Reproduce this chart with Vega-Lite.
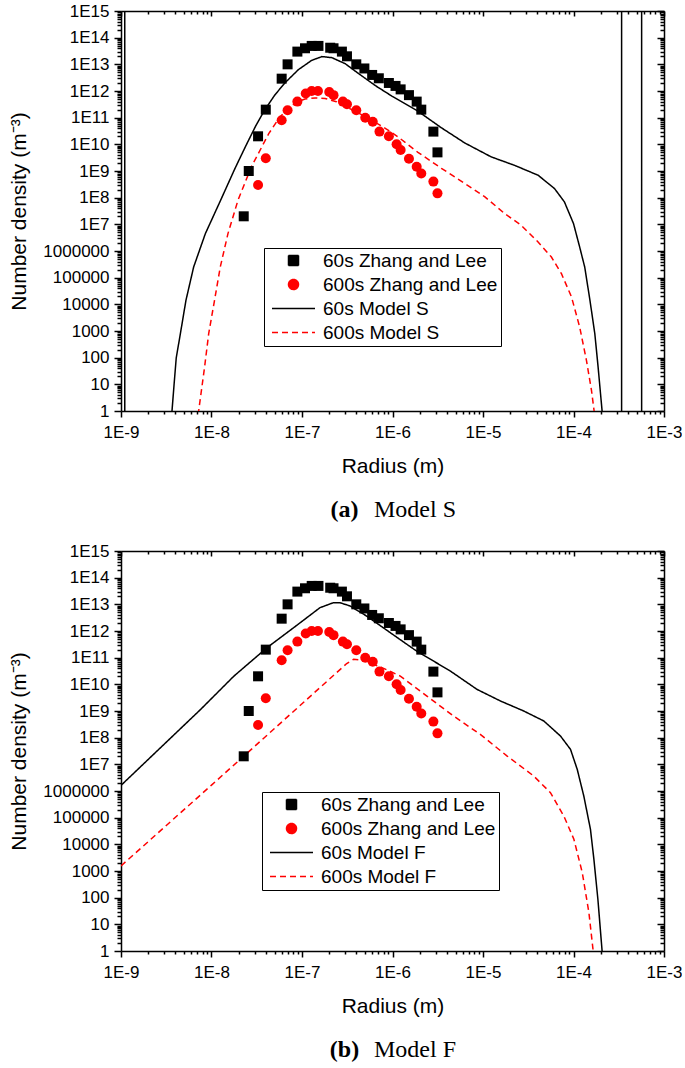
{
  "$schema": "https://vega.github.io/schema/vega-lite/v6.json",
  "background": "white",
  "padding": {"left": 8, "top": 2, "right": 0, "bottom": 0},
  "config": {
    "view": {"stroke": null},
    "axis": {"grid": false, "labelFont": "Liberation Sans", "labelFontSize": 17, "labelColor": "black", "tickColor": "black", "tickWidth": 1.5, "domainColor": "black", "domainWidth": 1.5, "titleFont": "Liberation Sans", "titleFontSize": 21, "titleFontWeight": "normal", "titleColor": "black", "labelFlush": false, "labelOverlap": false, "labelBound": false, "labelPadding": 5},
    "legend": {"labelFont": "Liberation Sans", "labelFontSize": 19, "labelColor": "black", "labelLimit": 0, "strokeColor": "black", "fillColor": "white", "padding": 3, "cornerRadius": 0, "symbolSize": 100, "symbolStrokeWidth": 1.5, "symbolOpacity": 1, "rowPadding": 4, "symbolOffset": 17, "labelOffset": 20},
    "title": {"font": "Liberation Serif", "fontSize": 24, "color": "black"}
  },
  "datasets": {
    "pts": [
      {"r": 2.27e-8, "n": 2e7, "series": "60s Zhang and Lee"},
      {"r": 2.58e-8, "n": 1e9, "series": "60s Zhang and Lee"},
      {"r": 3.27e-8, "n": 2e10, "series": "60s Zhang and Lee"},
      {"r": 3.98e-8, "n": 2e11, "series": "60s Zhang and Lee"},
      {"r": 5.96e-8, "n": 2.9e12, "series": "60s Zhang and Lee"},
      {"r": 6.93e-8, "n": 1e13, "series": "60s Zhang and Lee"},
      {"r": 8.89e-8, "n": 3e13, "series": "60s Zhang and Lee"},
      {"r": 1.08e-7, "n": 4e13, "series": "60s Zhang and Lee"},
      {"r": 1.28e-7, "n": 4.9e13, "series": "60s Zhang and Lee"},
      {"r": 1.52e-7, "n": 4.9e13, "series": "60s Zhang and Lee"},
      {"r": 2.05e-7, "n": 4.2e13, "series": "60s Zhang and Lee"},
      {"r": 2.23e-7, "n": 4e13, "series": "60s Zhang and Lee"},
      {"r": 2.76e-7, "n": 3e13, "series": "60s Zhang and Lee"},
      {"r": 3.14e-7, "n": 2e13, "series": "60s Zhang and Lee"},
      {"r": 3.98e-7, "n": 1e13, "series": "60s Zhang and Lee"},
      {"r": 4.89e-7, "n": 7e12, "series": "60s Zhang and Lee"},
      {"r": 5.96e-7, "n": 4e12, "series": "60s Zhang and Lee"},
      {"r": 7.06e-7, "n": 3e12, "series": "60s Zhang and Lee"},
      {"r": 9.12e-7, "n": 2e12, "series": "60s Zhang and Lee"},
      {"r": 1.08e-6, "n": 1.55e12, "series": "60s Zhang and Lee"},
      {"r": 1.23e-6, "n": 1.15e12, "series": "60s Zhang and Lee"},
      {"r": 1.52e-6, "n": 7e11, "series": "60s Zhang and Lee"},
      {"r": 1.85e-6, "n": 4e11, "series": "60s Zhang and Lee"},
      {"r": 2.08e-6, "n": 2e11, "series": "60s Zhang and Lee"},
      {"r": 2.83e-6, "n": 3e10, "series": "60s Zhang and Lee"},
      {"r": 3.14e-6, "n": 5e9, "series": "60s Zhang and Lee"},
      {"r": 3.27e-8, "n": 3e8, "series": "600s Zhang and Lee"},
      {"r": 3.98e-8, "n": 3e9, "series": "600s Zhang and Lee"},
      {"r": 5.96e-8, "n": 8e10, "series": "600s Zhang and Lee"},
      {"r": 6.93e-8, "n": 1.9e11, "series": "600s Zhang and Lee"},
      {"r": 8.89e-8, "n": 4e11, "series": "600s Zhang and Lee"},
      {"r": 1.1e-7, "n": 8e11, "series": "600s Zhang and Lee"},
      {"r": 1.28e-7, "n": 1e12, "series": "600s Zhang and Lee"},
      {"r": 1.5e-7, "n": 1e12, "series": "600s Zhang and Lee"},
      {"r": 2e-7, "n": 9.2e11, "series": "600s Zhang and Lee"},
      {"r": 2.23e-7, "n": 7e11, "series": "600s Zhang and Lee"},
      {"r": 2.83e-7, "n": 4e11, "series": "600s Zhang and Lee"},
      {"r": 3.14e-7, "n": 3.2e11, "series": "600s Zhang and Lee"},
      {"r": 3.98e-7, "n": 1.9e11, "series": "600s Zhang and Lee"},
      {"r": 5e-7, "n": 1e11, "series": "600s Zhang and Lee"},
      {"r": 6.05e-7, "n": 7e10, "series": "600s Zhang and Lee"},
      {"r": 7.18e-7, "n": 3e10, "series": "600s Zhang and Lee"},
      {"r": 9.12e-7, "n": 2e10, "series": "600s Zhang and Lee"},
      {"r": 1.11e-6, "n": 1e10, "series": "600s Zhang and Lee"},
      {"r": 1.23e-6, "n": 6.1e9, "series": "600s Zhang and Lee"},
      {"r": 1.52e-6, "n": 2.9e9, "series": "600s Zhang and Lee"},
      {"r": 1.85e-6, "n": 1.45e9, "series": "600s Zhang and Lee"},
      {"r": 2.08e-6, "n": 8e8, "series": "600s Zhang and Lee"},
      {"r": 2.83e-6, "n": 4e8, "series": "600s Zhang and Lee"},
      {"r": 3.14e-6, "n": 1.45e8, "series": "600s Zhang and Lee"}
    ],
    "lineS": [
      {"r": 1.1e-9, "n": 1e20, "series": "60s Model S"},
      {"r": 1.101e-9, "n": 1e-3, "series": "60s Model S"},
      {"r": 3.5e-9, "n": 0.1, "series": "60s Model S"},
      {"r": 3.66e-9, "n": 1, "series": "60s Model S"},
      {"r": 3.86e-9, "n": 10, "series": "60s Model S"},
      {"r": 4.08e-9, "n": 100, "series": "60s Model S"},
      {"r": 4.53e-9, "n": 794, "series": "60s Model S"},
      {"r": 5.22e-9, "n": 1.41e4, "series": "60s Model S"},
      {"r": 6.35e-9, "n": 2.51e5, "series": "60s Model S"},
      {"r": 8.55e-9, "n": 4.47e6, "series": "60s Model S"},
      {"r": 1.26e-8, "n": 7.94e7, "series": "60s Model S"},
      {"r": 1.82e-8, "n": 1.26e9, "series": "60s Model S"},
      {"r": 2.4e-8, "n": 8.91e9, "series": "60s Model S"},
      {"r": 3.09e-8, "n": 5.01e10, "series": "60s Model S"},
      {"r": 3.89e-8, "n": 2.0e11, "series": "60s Model S"},
      {"r": 5.01e-8, "n": 7.08e11, "series": "60s Model S"},
      {"r": 6.46e-8, "n": 2.0e12, "series": "60s Model S"},
      {"r": 9.12e-8, "n": 6.31e12, "series": "60s Model S"},
      {"r": 1.28e-7, "n": 1.41e13, "series": "60s Model S"},
      {"r": 1.66e-7, "n": 1.95e13, "series": "60s Model S"},
      {"r": 2.14e-7, "n": 1.78e13, "series": "60s Model S"},
      {"r": 3.01e-7, "n": 1.05e13, "series": "60s Model S"},
      {"r": 4.23e-7, "n": 4.47e12, "series": "60s Model S"},
      {"r": 6.49e-7, "n": 1.58e12, "series": "60s Model S"},
      {"r": 9.93e-7, "n": 6.31e11, "series": "60s Model S"},
      {"r": 1.86e-6, "n": 1.86e11, "series": "60s Model S"},
      {"r": 3.47e-6, "n": 4.17e10, "series": "60s Model S"},
      {"r": 6.31e-6, "n": 1.12e10, "series": "60s Model S"},
      {"r": 1.23e-5, "n": 3.39e9, "series": "60s Model S"},
      {"r": 2.24e-5, "n": 1.62e9, "series": "60s Model S"},
      {"r": 4.07e-5, "n": 6.92e8, "series": "60s Model S"},
      {"r": 6.17e-5, "n": 2.19e8, "series": "60s Model S"},
      {"r": 7.94e-5, "n": 6.92e7, "series": "60s Model S"},
      {"r": 1.0e-4, "n": 1.07e7, "series": "60s Model S"},
      {"r": 1.17e-4, "n": 1.41e6, "series": "60s Model S"},
      {"r": 1.33e-4, "n": 2.51e5, "series": "60s Model S"},
      {"r": 1.52e-4, "n": 1.41e4, "series": "60s Model S"},
      {"r": 1.72e-4, "n": 794, "series": "60s Model S"},
      {"r": 1.87e-4, "n": 44.7, "series": "60s Model S"},
      {"r": 2.07e-4, "n": 1, "series": "60s Model S"},
      {"r": 2.3e-4, "n": 0.01, "series": "60s Model S"},
      {"r": 3.4e-4, "n": 1e-3, "series": "60s Model S"},
      {"r": 3.401e-4, "n": 1e20, "series": "60s Model S"},
      {"r": 5.66e-4, "n": 1e20, "series": "60s Model S"},
      {"r": 5.661e-4, "n": 1e-3, "series": "60s Model S"},
      {"r": 1e-3, "n": 1e-3, "series": "60s Model S"},
      {"r": 7.0e-9, "n": 0.3, "series": "600s Model S"},
      {"r": 7.21e-9, "n": 1, "series": "600s Model S"},
      {"r": 8.39e-9, "n": 44.7, "series": "600s Model S"},
      {"r": 9.31e-9, "n": 794, "series": "600s Model S"},
      {"r": 1.08e-8, "n": 1.41e4, "series": "600s Model S"},
      {"r": 1.25e-8, "n": 2.51e5, "series": "600s Model S"},
      {"r": 1.52e-8, "n": 4.47e6, "series": "600s Model S"},
      {"r": 1.96e-8, "n": 7.94e7, "series": "600s Model S"},
      {"r": 2.75e-8, "n": 1.41e9, "series": "600s Model S"},
      {"r": 4.29e-8, "n": 2.51e10, "series": "600s Model S"},
      {"r": 5.62e-8, "n": 1e11, "series": "600s Model S"},
      {"r": 7.08e-8, "n": 2.24e11, "series": "600s Model S"},
      {"r": 8.71e-8, "n": 3.8e11, "series": "600s Model S"},
      {"r": 1.08e-7, "n": 5.01e11, "series": "600s Model S"},
      {"r": 1.4e-7, "n": 5.5e11, "series": "600s Model S"},
      {"r": 1.8e-7, "n": 5.25e11, "series": "600s Model S"},
      {"r": 2.4e-7, "n": 3.98e11, "series": "600s Model S"},
      {"r": 3.55e-7, "n": 2.0e11, "series": "600s Model S"},
      {"r": 5.62e-7, "n": 8.91e10, "series": "600s Model S"},
      {"r": 8.32e-7, "n": 3.98e10, "series": "600s Model S"},
      {"r": 1.15e-6, "n": 1.91e10, "series": "600s Model S"},
      {"r": 1.91e-6, "n": 5.01e9, "series": "600s Model S"},
      {"r": 3.47e-6, "n": 1.26e9, "series": "600s Model S"},
      {"r": 6.31e-6, "n": 3.39e8, "series": "600s Model S"},
      {"r": 1.05e-5, "n": 1.07e8, "series": "600s Model S"},
      {"r": 1.74e-5, "n": 2.51e7, "series": "600s Model S"},
      {"r": 2.65e-5, "n": 9.12e6, "series": "600s Model S"},
      {"r": 4.06e-5, "n": 2.19e6, "series": "600s Model S"},
      {"r": 5.7e-5, "n": 5.96e5, "series": "600s Model S"},
      {"r": 7.36e-5, "n": 1.41e5, "series": "600s Model S"},
      {"r": 9.51e-5, "n": 1.88e4, "series": "600s Model S"},
      {"r": 1.17e-4, "n": 1410, "series": "600s Model S"},
      {"r": 1.39e-4, "n": 79.4, "series": "600s Model S"},
      {"r": 1.58e-4, "n": 5.96, "series": "600s Model S"},
      {"r": 1.69e-4, "n": 1, "series": "600s Model S"},
      {"r": 1.78e-4, "n": 0.316, "series": "600s Model S"}
    ],
    "lineF": [
      {"r": 1e-9, "n": 1.62e6, "series": "60s Model F"},
      {"r": 7.59e-9, "n": 1.15e9, "series": "60s Model F"},
      {"r": 1.77e-8, "n": 2.04e10, "series": "60s Model F"},
      {"r": 4.11e-8, "n": 2.37e11, "series": "60s Model F"},
      {"r": 9.55e-8, "n": 2.04e12, "series": "60s Model F"},
      {"r": 1.58e-7, "n": 7.5e12, "series": "60s Model F"},
      {"r": 2.22e-7, "n": 1.15e13, "series": "60s Model F"},
      {"r": 2.63e-7, "n": 1.15e13, "series": "60s Model F"},
      {"r": 3.39e-7, "n": 8.71e12, "series": "60s Model F"},
      {"r": 5.18e-7, "n": 3.63e12, "series": "60s Model F"},
      {"r": 7.89e-7, "n": 1.33e12, "series": "60s Model F"},
      {"r": 1.2e-6, "n": 4.9e11, "series": "60s Model F"},
      {"r": 1.84e-6, "n": 1.78e11, "series": "60s Model F"},
      {"r": 4.35e-6, "n": 3.16e10, "series": "60s Model F"},
      {"r": 8.59e-6, "n": 6.46e9, "series": "60s Model F"},
      {"r": 1.56e-5, "n": 2.37e9, "series": "60s Model F"},
      {"r": 2.82e-5, "n": 1e9, "series": "60s Model F"},
      {"r": 4.7e-5, "n": 4.22e8, "series": "60s Model F"},
      {"r": 7.18e-5, "n": 1.15e8, "series": "60s Model F"},
      {"r": 9.27e-5, "n": 3.63e7, "series": "60s Model F"},
      {"r": 1.1e-4, "n": 6.46e6, "series": "60s Model F"},
      {"r": 1.3e-4, "n": 6.46e5, "series": "60s Model F"},
      {"r": 1.54e-4, "n": 3.63e4, "series": "60s Model F"},
      {"r": 1.68e-4, "n": 2750, "series": "60s Model F"},
      {"r": 1.86e-4, "n": 87.1, "series": "60s Model F"},
      {"r": 2.07e-4, "n": 1, "series": "60s Model F"},
      {"r": 2.14e-4, "n": 0.1, "series": "60s Model F"},
      {"r": 1e-9, "n": 1550, "series": "600s Model F"},
      {"r": 1e-8, "n": 1.66e6, "series": "600s Model F"},
      {"r": 1e-7, "n": 1.86e9, "series": "600s Model F"},
      {"r": 3.12e-7, "n": 6.03e10, "series": "600s Model F"},
      {"r": 3.72e-7, "n": 8.71e10, "series": "600s Model F"},
      {"r": 4.9e-7, "n": 7.94e10, "series": "600s Model F"},
      {"r": 8.59e-7, "n": 3.55e10, "series": "600s Model F"},
      {"r": 1.22e-6, "n": 2.04e10, "series": "600s Model F"},
      {"r": 2.4e-6, "n": 3.63e9, "series": "600s Model F"},
      {"r": 4.73e-6, "n": 6.46e8, "series": "600s Model F"},
      {"r": 9.33e-6, "n": 1.33e8, "series": "600s Model F"},
      {"r": 1.85e-5, "n": 2.04e7, "series": "600s Model F"},
      {"r": 3.64e-5, "n": 3.63e6, "series": "600s Model F"},
      {"r": 5.56e-5, "n": 8.71e5, "series": "600s Model F"},
      {"r": 7.82e-5, "n": 1.15e5, "series": "600s Model F"},
      {"r": 1.01e-4, "n": 1.55e4, "series": "600s Model F"},
      {"r": 1.25e-4, "n": 871, "series": "600s Model F"},
      {"r": 1.48e-4, "n": 27.5, "series": "600s Model F"},
      {"r": 1.65e-4, "n": 1, "series": "600s Model F"},
      {"r": 1.7e-4, "n": 0.316, "series": "600s Model F"}
    ]
  },
  "spacing": 20,
  "resolve": {"scale": {"color": "independent", "shape": "independent", "strokeDash": "independent"}, "legend": {"color": "independent", "shape": "independent", "strokeDash": "independent"}},
  "vconcat": [
    {
      "title": {"text": "Model S", "orient": "bottom", "anchor": "middle", "frame": "group", "font": "Liberation Serif", "fontSize": 24, "fontWeight": "normal", "offset": 0, "dx": 294, "dy": -24},
      "vconcat": [
        {
          "width": 543, "height": 400,
          "title": {"text": "(a)", "orient": "bottom", "font": "Liberation Serif", "fontSize": 24, "fontWeight": "bold", "offset": 22, "dx": -48, "frame": "group"},
          "resolve": {"axis": {"x": "independent", "y": "independent"}},
          "layer": [
            {
              "data": {"name": "lineS"},
              "mark": {"type": "line", "clip": true, "strokeWidth": 1.5},
              "encoding": {
                "x": {"field": "r", "type": "quantitative", "scale": {"type": "log", "domain": [1e-9, 1e-3], "nice": false},
                  "axis": {"orient": "bottom", "title": "Radius (m)", "titlePadding": 15, "labelPadding": 7,
                    "values": [1e-9,2e-9,3e-9,4e-9,5e-9,6e-9,7e-9,8e-9,9e-9,1e-8,2e-8,3e-8,4e-8,5e-8,6e-8,7e-8,8e-8,9e-8,1e-7,2e-7,3e-7,4e-7,5e-7,6e-7,7e-7,8e-7,9e-7,1e-6,2e-6,3e-6,4e-6,5e-6,6e-6,7e-6,8e-6,9e-6,1e-5,2e-5,3e-5,4e-5,5e-5,6e-5,7e-5,8e-5,9e-5,1e-4,2e-4,3e-4,4e-4,5e-4,6e-4,7e-4,8e-4,9e-4,1e-3],
                    "labelExpr": "abs(log(datum.value)/LN10 - round(log(datum.value)/LN10)) < 0.01 ? '1E' + round(log(datum.value)/LN10) : ''",
                    "tickSize": {"condition": {"test": "abs(log(datum.value)/LN10 - round(log(datum.value)/LN10)) < 0.01", "value": 6}, "value": 3}}},
                "y": {"field": "n", "type": "quantitative", "scale": {"type": "log", "domain": [1, 1e15], "nice": false},
                  "axis": {"orient": "left", "title": "Number density (m⁻³)", "titlePadding": 13,
                    "values": [1,2,3,4,5,6,7,8,9,1e1,2e1,3e1,4e1,5e1,6e1,7e1,8e1,9e1,1e2,2e2,3e2,4e2,5e2,6e2,7e2,8e2,9e2,1e3,2e3,3e3,4e3,5e3,6e3,7e3,8e3,9e3,1e4,2e4,3e4,4e4,5e4,6e4,7e4,8e4,9e4,1e5,2e5,3e5,4e5,5e5,6e5,7e5,8e5,9e5,1e6,2e6,3e6,4e6,5e6,6e6,7e6,8e6,9e6,1e7,2e7,3e7,4e7,5e7,6e7,7e7,8e7,9e7,1e8,2e8,3e8,4e8,5e8,6e8,7e8,8e8,9e8,1e9,2e9,3e9,4e9,5e9,6e9,7e9,8e9,9e9,1e10,2e10,3e10,4e10,5e10,6e10,7e10,8e10,9e10,1e11,2e11,3e11,4e11,5e11,6e11,7e11,8e11,9e11,1e12,2e12,3e12,4e12,5e12,6e12,7e12,8e12,9e12,1e13,2e13,3e13,4e13,5e13,6e13,7e13,8e13,9e13,1e14,2e14,3e14,4e14,5e14,6e14,7e14,8e14,9e14,1e15],
                    "labelExpr": "abs(log(datum.value)/LN10 - round(log(datum.value)/LN10)) < 0.01 ? (datum.value >= 1e7 ? '1E' + round(log(datum.value)/LN10) : format(datum.value, 'd')) : ''",
                    "tickSize": {"condition": {"test": "abs(log(datum.value)/LN10 - round(log(datum.value)/LN10)) < 0.01", "value": 7}, "value": 4}}},
                "color": {"field": "series", "type": "nominal", "scale": {"domain": ["60s Zhang and Lee", "600s Zhang and Lee", "60s Model S", "600s Model S"], "range": ["#000000", "#ff0000", "#000000", "#ff0000"]}, "legend": {"title": null, "orient": "none", "legendX": 143, "legendY": 237}},
                "strokeDash": {"field": "series", "type": "nominal", "scale": {"domain": ["60s Zhang and Lee", "600s Zhang and Lee", "60s Model S", "600s Model S"], "range": [[1,0],[1,0],[1,0],[6,4]]}, "legend": {"title": null, "orient": "none", "legendX": 143, "legendY": 237}}
              }
            },
            {
              "data": {"name": "pts"},
              "mark": {"type": "point", "filled": true, "size": 100, "opacity": 1, "strokeWidth": 0},
              "encoding": {
                "x": {"field": "r", "type": "quantitative", "scale": {"type": "log", "domain": [1e-9, 1e-3], "nice": false}, "axis": null},
                "y": {"field": "n", "type": "quantitative", "scale": {"type": "log", "domain": [1, 1e15], "nice": false}, "axis": null},
                "color": {"field": "series", "type": "nominal", "scale": {"domain": ["60s Zhang and Lee", "600s Zhang and Lee", "60s Model S", "600s Model S"], "range": ["#000000", "#ff0000", "#000000", "#ff0000"]}, "legend": {"title": null, "orient": "none", "legendX": 143, "legendY": 237}},
                "shape": {"field": "series", "type": "nominal", "scale": {"domain": ["60s Zhang and Lee", "600s Zhang and Lee", "60s Model S", "600s Model S"], "range": ["square", "circle", "M-4.3,0H4.3", "M-4.3,0H4.3"]}, "legend": {"title": null, "orient": "none", "legendX": 143, "legendY": 237}}
              }
            },
            {
              "data": {"name": "pts"},
              "mark": {"type": "point", "opacity": 0},
              "encoding": {
                "x": {"field": "r", "type": "quantitative", "scale": {"type": "log", "domain": [1e-9, 1e-3], "nice": false},
                  "axis": {"orient": "top", "title": null, "labels": false,
                    "values": [1e-9,2e-9,3e-9,4e-9,5e-9,6e-9,7e-9,8e-9,9e-9,1e-8,2e-8,3e-8,4e-8,5e-8,6e-8,7e-8,8e-8,9e-8,1e-7,2e-7,3e-7,4e-7,5e-7,6e-7,7e-7,8e-7,9e-7,1e-6,2e-6,3e-6,4e-6,5e-6,6e-6,7e-6,8e-6,9e-6,1e-5,2e-5,3e-5,4e-5,5e-5,6e-5,7e-5,8e-5,9e-5,1e-4,2e-4,3e-4,4e-4,5e-4,6e-4,7e-4,8e-4,9e-4,1e-3],
                    "tickSize": {"condition": {"test": "abs(log(datum.value)/LN10 - round(log(datum.value)/LN10)) < 0.01", "value": -5}, "value": -3}}},
                "y": {"field": "n", "type": "quantitative", "scale": {"type": "log", "domain": [1, 1e15], "nice": false},
                  "axis": {"orient": "right", "title": null, "labels": false,
                    "values": [1,2,3,4,5,6,7,8,9,1e1,2e1,3e1,4e1,5e1,6e1,7e1,8e1,9e1,1e2,2e2,3e2,4e2,5e2,6e2,7e2,8e2,9e2,1e3,2e3,3e3,4e3,5e3,6e3,7e3,8e3,9e3,1e4,2e4,3e4,4e4,5e4,6e4,7e4,8e4,9e4,1e5,2e5,3e5,4e5,5e5,6e5,7e5,8e5,9e5,1e6,2e6,3e6,4e6,5e6,6e6,7e6,8e6,9e6,1e7,2e7,3e7,4e7,5e7,6e7,7e7,8e7,9e7,1e8,2e8,3e8,4e8,5e8,6e8,7e8,8e8,9e8,1e9,2e9,3e9,4e9,5e9,6e9,7e9,8e9,9e9,1e10,2e10,3e10,4e10,5e10,6e10,7e10,8e10,9e10,1e11,2e11,3e11,4e11,5e11,6e11,7e11,8e11,9e11,1e12,2e12,3e12,4e12,5e12,6e12,7e12,8e12,9e12,1e13,2e13,3e13,4e13,5e13,6e13,7e13,8e13,9e13,1e14,2e14,3e14,4e14,5e14,6e14,7e14,8e14,9e14,1e15],
                    "tickSize": {"condition": {"test": "abs(log(datum.value)/LN10 - round(log(datum.value)/LN10)) < 0.01", "value": -7}, "value": -4}}}
              }
            }
          ]
        }
      ]
    },
    {
      "title": {"text": "Model F", "orient": "bottom", "anchor": "middle", "frame": "group", "font": "Liberation Serif", "fontSize": 24, "fontWeight": "normal", "offset": 0, "dx": 294, "dy": -24},
      "vconcat": [
        {
          "width": 543, "height": 400,
          "title": {"text": "(b)", "orient": "bottom", "font": "Liberation Serif", "fontSize": 24, "fontWeight": "bold", "offset": 22, "dx": -48, "frame": "group"},
          "resolve": {"axis": {"x": "independent", "y": "independent"}},
          "layer": [
            {
              "data": {"name": "lineF"},
              "mark": {"type": "line", "clip": true, "strokeWidth": 1.5},
              "encoding": {
                "x": {"field": "r", "type": "quantitative", "scale": {"type": "log", "domain": [1e-9, 1e-3], "nice": false},
                  "axis": {"orient": "bottom", "title": "Radius (m)", "titlePadding": 15, "labelPadding": 7,
                    "values": [1e-9,2e-9,3e-9,4e-9,5e-9,6e-9,7e-9,8e-9,9e-9,1e-8,2e-8,3e-8,4e-8,5e-8,6e-8,7e-8,8e-8,9e-8,1e-7,2e-7,3e-7,4e-7,5e-7,6e-7,7e-7,8e-7,9e-7,1e-6,2e-6,3e-6,4e-6,5e-6,6e-6,7e-6,8e-6,9e-6,1e-5,2e-5,3e-5,4e-5,5e-5,6e-5,7e-5,8e-5,9e-5,1e-4,2e-4,3e-4,4e-4,5e-4,6e-4,7e-4,8e-4,9e-4,1e-3],
                    "labelExpr": "abs(log(datum.value)/LN10 - round(log(datum.value)/LN10)) < 0.01 ? '1E' + round(log(datum.value)/LN10) : ''",
                    "tickSize": {"condition": {"test": "abs(log(datum.value)/LN10 - round(log(datum.value)/LN10)) < 0.01", "value": 6}, "value": 3}}},
                "y": {"field": "n", "type": "quantitative", "scale": {"type": "log", "domain": [1, 1e15], "nice": false},
                  "axis": {"orient": "left", "title": "Number density (m⁻³)", "titlePadding": 13,
                    "values": [1,2,3,4,5,6,7,8,9,1e1,2e1,3e1,4e1,5e1,6e1,7e1,8e1,9e1,1e2,2e2,3e2,4e2,5e2,6e2,7e2,8e2,9e2,1e3,2e3,3e3,4e3,5e3,6e3,7e3,8e3,9e3,1e4,2e4,3e4,4e4,5e4,6e4,7e4,8e4,9e4,1e5,2e5,3e5,4e5,5e5,6e5,7e5,8e5,9e5,1e6,2e6,3e6,4e6,5e6,6e6,7e6,8e6,9e6,1e7,2e7,3e7,4e7,5e7,6e7,7e7,8e7,9e7,1e8,2e8,3e8,4e8,5e8,6e8,7e8,8e8,9e8,1e9,2e9,3e9,4e9,5e9,6e9,7e9,8e9,9e9,1e10,2e10,3e10,4e10,5e10,6e10,7e10,8e10,9e10,1e11,2e11,3e11,4e11,5e11,6e11,7e11,8e11,9e11,1e12,2e12,3e12,4e12,5e12,6e12,7e12,8e12,9e12,1e13,2e13,3e13,4e13,5e13,6e13,7e13,8e13,9e13,1e14,2e14,3e14,4e14,5e14,6e14,7e14,8e14,9e14,1e15],
                    "labelExpr": "abs(log(datum.value)/LN10 - round(log(datum.value)/LN10)) < 0.01 ? (datum.value >= 1e7 ? '1E' + round(log(datum.value)/LN10) : format(datum.value, 'd')) : ''",
                    "tickSize": {"condition": {"test": "abs(log(datum.value)/LN10 - round(log(datum.value)/LN10)) < 0.01", "value": 7}, "value": 4}}},
                "color": {"field": "series", "type": "nominal", "scale": {"domain": ["60s Zhang and Lee", "600s Zhang and Lee", "60s Model F", "600s Model F"], "range": ["#000000", "#ff0000", "#000000", "#ff0000"]}, "legend": {"title": null, "orient": "none", "legendX": 141, "legendY": 241}},
                "strokeDash": {"field": "series", "type": "nominal", "scale": {"domain": ["60s Zhang and Lee", "600s Zhang and Lee", "60s Model F", "600s Model F"], "range": [[1,0],[1,0],[1,0],[6,4]]}, "legend": {"title": null, "orient": "none", "legendX": 141, "legendY": 241}}
              }
            },
            {
              "data": {"name": "pts"},
              "mark": {"type": "point", "filled": true, "size": 100, "opacity": 1, "strokeWidth": 0},
              "encoding": {
                "x": {"field": "r", "type": "quantitative", "scale": {"type": "log", "domain": [1e-9, 1e-3], "nice": false}, "axis": null},
                "y": {"field": "n", "type": "quantitative", "scale": {"type": "log", "domain": [1, 1e15], "nice": false}, "axis": null},
                "color": {"field": "series", "type": "nominal", "scale": {"domain": ["60s Zhang and Lee", "600s Zhang and Lee", "60s Model F", "600s Model F"], "range": ["#000000", "#ff0000", "#000000", "#ff0000"]}, "legend": {"title": null, "orient": "none", "legendX": 141, "legendY": 241}},
                "shape": {"field": "series", "type": "nominal", "scale": {"domain": ["60s Zhang and Lee", "600s Zhang and Lee", "60s Model F", "600s Model F"], "range": ["square", "circle", "M-4.3,0H4.3", "M-4.3,0H4.3"]}, "legend": {"title": null, "orient": "none", "legendX": 141, "legendY": 241}}
              }
            },
            {
              "data": {"name": "pts"},
              "mark": {"type": "point", "opacity": 0},
              "encoding": {
                "x": {"field": "r", "type": "quantitative", "scale": {"type": "log", "domain": [1e-9, 1e-3], "nice": false},
                  "axis": {"orient": "top", "title": null, "labels": false,
                    "values": [1e-9,2e-9,3e-9,4e-9,5e-9,6e-9,7e-9,8e-9,9e-9,1e-8,2e-8,3e-8,4e-8,5e-8,6e-8,7e-8,8e-8,9e-8,1e-7,2e-7,3e-7,4e-7,5e-7,6e-7,7e-7,8e-7,9e-7,1e-6,2e-6,3e-6,4e-6,5e-6,6e-6,7e-6,8e-6,9e-6,1e-5,2e-5,3e-5,4e-5,5e-5,6e-5,7e-5,8e-5,9e-5,1e-4,2e-4,3e-4,4e-4,5e-4,6e-4,7e-4,8e-4,9e-4,1e-3],
                    "tickSize": {"condition": {"test": "abs(log(datum.value)/LN10 - round(log(datum.value)/LN10)) < 0.01", "value": -5}, "value": -3}}},
                "y": {"field": "n", "type": "quantitative", "scale": {"type": "log", "domain": [1, 1e15], "nice": false},
                  "axis": {"orient": "right", "title": null, "labels": false,
                    "values": [1,2,3,4,5,6,7,8,9,1e1,2e1,3e1,4e1,5e1,6e1,7e1,8e1,9e1,1e2,2e2,3e2,4e2,5e2,6e2,7e2,8e2,9e2,1e3,2e3,3e3,4e3,5e3,6e3,7e3,8e3,9e3,1e4,2e4,3e4,4e4,5e4,6e4,7e4,8e4,9e4,1e5,2e5,3e5,4e5,5e5,6e5,7e5,8e5,9e5,1e6,2e6,3e6,4e6,5e6,6e6,7e6,8e6,9e6,1e7,2e7,3e7,4e7,5e7,6e7,7e7,8e7,9e7,1e8,2e8,3e8,4e8,5e8,6e8,7e8,8e8,9e8,1e9,2e9,3e9,4e9,5e9,6e9,7e9,8e9,9e9,1e10,2e10,3e10,4e10,5e10,6e10,7e10,8e10,9e10,1e11,2e11,3e11,4e11,5e11,6e11,7e11,8e11,9e11,1e12,2e12,3e12,4e12,5e12,6e12,7e12,8e12,9e12,1e13,2e13,3e13,4e13,5e13,6e13,7e13,8e13,9e13,1e14,2e14,3e14,4e14,5e14,6e14,7e14,8e14,9e14,1e15],
                    "tickSize": {"condition": {"test": "abs(log(datum.value)/LN10 - round(log(datum.value)/LN10)) < 0.01", "value": -7}, "value": -4}}}
              }
            }
          ]
        }
      ]
    }
  ]
}
